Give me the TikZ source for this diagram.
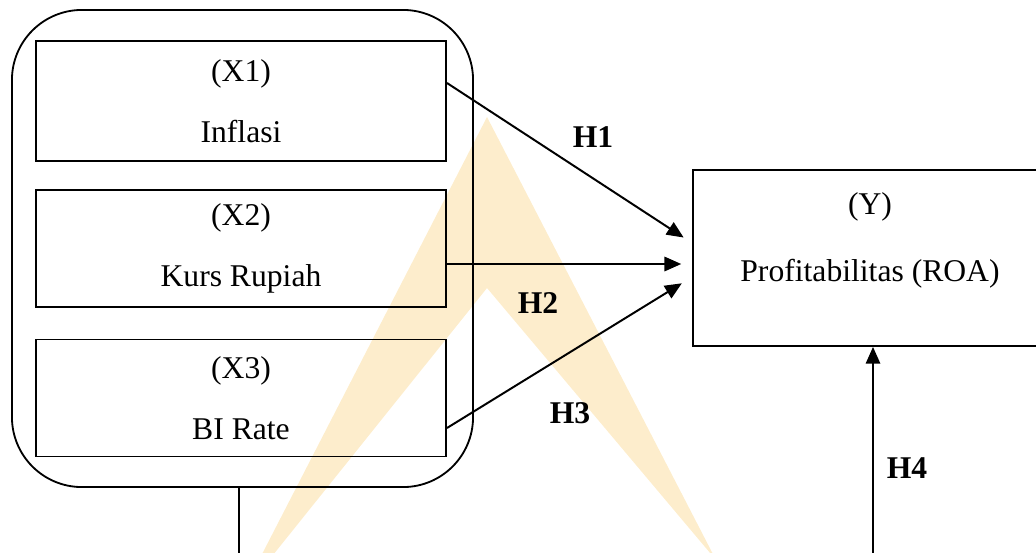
\documentclass[tikz,border=0pt]{standalone}
\usepackage{fontspec}
\setmainfont{Liberation Serif}
\usetikzlibrary{arrows.meta}

\definecolor{wmark}{RGB}{253,237,204}

\begin{document}
\begin{tikzpicture}[x=0.025cm,y=-0.025cm,
    varbox/.style={draw,line width=1.3pt,inner sep=0pt,align=center,
      minimum width=10.25cm,font=\fontsize{22.5}{43}\selectfont},
    hlabel/.style={font=\fontsize{22.5}{26}\selectfont\bfseries},
    arr/.style={line width=1.4pt,-{Triangle[length=0.42cm,width=0.36cm]}}]
  \clip (0,0) rectangle (1036,552);
  % watermark behind everything
  \fill[wmark] (487,117) -- (716,560) -- (487,288) -- (269,560) -- (259,560) -- cycle;
  % group of independent variables
  \node[draw,line width=1.3pt,rounded corners=1.75cm,inner sep=0pt,
    minimum width=11.525cm,minimum height=11.925cm] (grp) at (242.5,248.5) {};
  \node[varbox,minimum height=3cm] (x1) at (241,101) {(X1)\\Inflasi};
  \node[varbox,minimum height=2.925cm] (x2) at (241,248.5) {(X2)\\Kurs Rupiah};
  \node[varbox,minimum height=2.925cm] (x3) at (241,398) {(X3)\\BI Rate};
  % dependent variable (runs past the right edge)
  \node[varbox,minimum width=8.85cm,minimum height=4.4cm,text depth=1.05cm,
    font=\fontsize{22.5}{47}\selectfont] (y) at (870,258) {(Y)\\Profitabilitas (ROA)};
  % hypotheses
  \draw[arr,shorten >=0.25cm] (x1.east |- 0,83) -- (y.west |- 0,243);
  \draw[arr,shorten >=0.27cm] (x2.east |- 0,264) -- (y.west |- 0,264);
  \draw[arr,shorten >=0.3cm] (x3.east |- 0,428) -- (y.west |- 0,277);
  \draw[arr] (grp.south -| 239,0) -- (239,580) -- (873,580) -- (y.south -| 873,0);
  \node[hlabel] (h1) at (593,137) {H1};
  \node[hlabel] (h2) at (538,303) {H2};
  \node[hlabel] (h3) at (570,413) {H3};
  \node[hlabel] (h4) at (907,468) {H4};
\end{tikzpicture}
\end{document}
